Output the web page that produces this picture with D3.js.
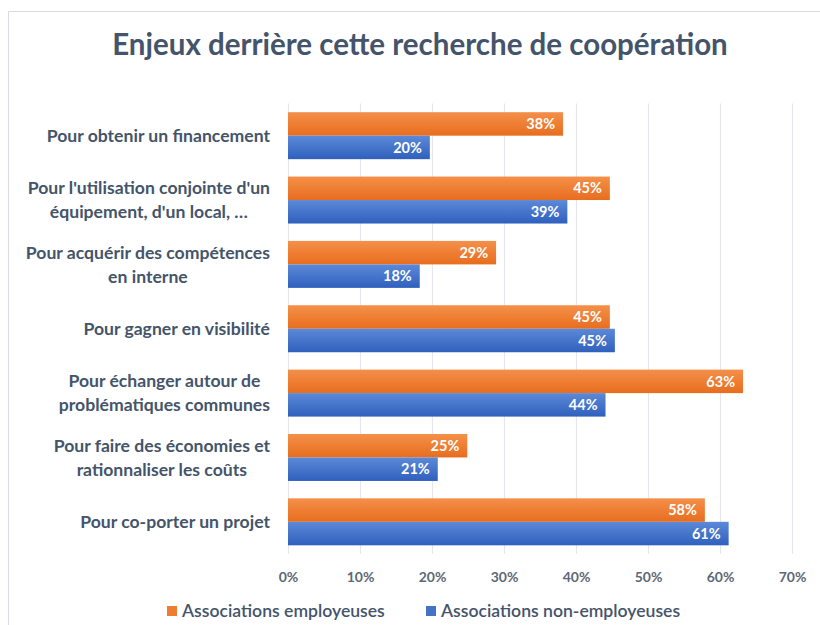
<!DOCTYPE html>
<html>
<head>
<meta charset="utf-8">
<script src="https://cdn.jsdelivr.net/npm/d3@7"></script>
<style>
  html, body { margin: 0; padding: 0; background: #ffffff; }
  svg { display: block; font-family: Lato, "Open Sans", sans-serif; }
</style>
</head>
<body>
<svg id="chart" width="820" height="625"></svg>
<script>
// ---- data ----
const title = "Enjeux derrière cette recherche de coopération";
const categories = [
  ["Pour obtenir un financement"],
  ["Pour l'utilisation conjointe d'un", "équipement, d'un local, \u2026"],
  ["Pour acquérir des compétences", "en interne"],
  ["Pour gagner en visibilité"],
  ["Pour échanger autour de", "problématiques communes"],
  ["Pour faire des économies et", "rationnaliser les coûts"],
  ["Pour co-porter un projet"]
];
const seriesNames = ["Associations employeuses", "Associations non-employeuses"];
const employeuses = [38.2, 44.7, 28.9, 44.7, 63.2, 24.9, 57.9];
const nonEmployeuses = [19.7, 38.8, 18.3, 45.4, 44.1, 20.8, 61.2];
const tickValues = [0, 10, 20, 30, 40, 50, 60, 70];

// ---- setup ----
const svg = d3.select("#chart");
const catKeys = categories.map(c => c.join(" "));
const seriesValues = [employeuses, nonEmployeuses];
const colors = [
  { top: "#F4904A", bottom: "#E86D1E", legend: "#ED7D31" },
  { top: "#5C89D8", bottom: "#2F60BD", legend: "#4472C4" }
];

const defs = svg.append("defs");
colors.forEach((c, i) => {
  const g = defs.append("linearGradient").attr("id", "grad" + i)
    .attr("x1", 0).attr("y1", 0).attr("x2", 0).attr("y2", 1);
  g.append("stop").attr("offset", "0%").attr("stop-color", c.top);
  g.append("stop").attr("offset", "100%").attr("stop-color", c.bottom);
});

// frame
svg.append("path")
  .attr("d", "M8.5,625 L8.5,11.5 L820,11.5")
  .attr("fill", "none").attr("stroke", "#DADCE3").attr("stroke-width", 1);

// title
svg.append("text")
  .attr("x", 420).attr("y", 55)
  .attr("text-anchor", "middle")
  .attr("font-size", 29.5).attr("font-weight", 700)
  .attr("fill", "#44546A")
  .text(title);

const x = d3.scaleLinear().domain([0, 70]).range([288, 792]);
const y0 = d3.scaleBand().domain(catKeys).range([103.5, 554])
  .paddingInner(0.27).paddingOuter(0.135);
const y1 = d3.scaleBand().domain(seriesNames).range([0, y0.bandwidth()]);

// gridlines
svg.append("g")
  .attr("transform", "translate(0,554)")
  .call(d3.axisBottom(x).tickValues(tickValues).tickSize(-(554 - 103.5)).tickFormat(""))
  .call(g => g.select(".domain").remove())
  .call(g => g.selectAll("line").attr("stroke", "#E4E7EE").attr("stroke-width", 1.2));

// tick labels
svg.append("g")
  .attr("transform", "translate(0,569)")
  .call(d3.axisBottom(x).tickValues(tickValues).tickSize(0).tickFormat(d => d + "%"))
  .call(g => g.select(".domain").remove())
  .call(g => g.selectAll("text")
    .attr("font-family", "Lato, sans-serif")
    .attr("font-size", 14).attr("font-weight", 700)
    .attr("fill", "#5D6777"));

// bars
const groups = svg.append("g").selectAll("g")
  .data(catKeys).join("g")
  .attr("transform", d => `translate(0,${y0(d)})`);

seriesNames.forEach((s, si) => {
  groups.append("rect")
    .attr("x", x(0))
    .attr("y", y1(s))
    .attr("width", (d, i) => x(seriesValues[si][i]) - x(0))
    .attr("height", y1.bandwidth())
    .attr("fill", `url(#grad${si})`);
  groups.append("text")
    .attr("x", (d, i) => x(seriesValues[si][i]) - 8)
    .attr("y", y1(s) + y1.bandwidth() / 2)
    .attr("dy", "0.36em")
    .attr("text-anchor", "end")
    .attr("font-size", 14.5).attr("font-weight", 700)
    .attr("fill", "#ffffff")
    .text((d, i) => Math.round(seriesValues[si][i]) + "%");
});

// category labels
const labelRight = 270;
categories.forEach((lines, i) => {
  const cy = y0(catKeys[i]) + y0.bandwidth() / 2;
  const g = svg.append("g");
  const lh = 24;
  const texts = lines.map((ln, j) => g.append("text")
    .attr("y", cy + (j - (lines.length - 1) / 2) * lh)
    .attr("dy", "0.36em")
    .attr("font-size", 17.6).attr("font-weight", 700)
    .attr("fill", "#44546A")
    .attr("text-anchor", "middle")
    .text(ln));
  const maxW = d3.max(texts, t => t.node().getComputedTextLength());
  texts.forEach(t => t.attr("x", labelRight - maxW / 2));
});

// legend
const legend = svg.append("g").attr("transform", "translate(0,611)");
const legendX = [167, 426];
seriesNames.forEach((s, i) => {
  legend.append("rect")
    .attr("x", legendX[i]).attr("y", -5)
    .attr("width", 10).attr("height", 10)
    .attr("fill", colors[i].legend);
  legend.append("text")
    .attr("x", legendX[i] + 15).attr("y", 0).attr("dy", "0.36em")
    .attr("font-size", 17.6).attr("font-weight", 600)
    .attr("fill", "#44546A")
    .text(s);
});
</script>
</body>
</html>
